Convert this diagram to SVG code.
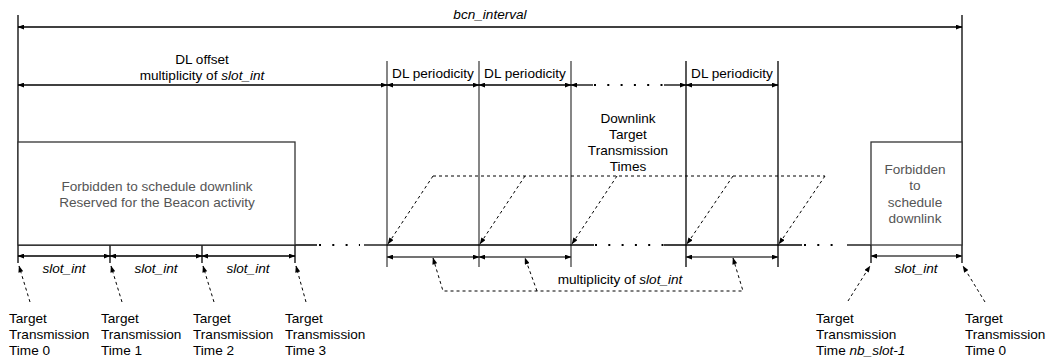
<svg xmlns="http://www.w3.org/2000/svg" width="1047" height="360" viewBox="0 0 1047 360">
<defs>
<marker id="ah" viewBox="0 0 8 6" refX="7.5" refY="3" markerWidth="7" markerHeight="5" markerUnits="userSpaceOnUse" orient="auto-start-reverse">
<path d="M0,0 L8,3 L0,6 z" fill="#000"/>
</marker>
</defs>
<style>
.ln{stroke:#000;stroke-width:1.3;fill:none}
.gl{stroke:#444;stroke-width:1.3;fill:none}
.da{stroke:#000;stroke-width:1;fill:none;stroke-dasharray:3 3}
.dot{stroke:#000;stroke-width:2;fill:none;stroke-dasharray:2 11.3}
.t{font-family:"Liberation Sans",Arial,sans-serif;font-size:13.6px;fill:#000}
.g{fill:#555}
.i{font-style:italic}
.box{fill:#fff;stroke:#333;stroke-width:1.3}
</style>
<rect width="1047" height="360" fill="#fff"/>

<g id="connectors">
<line class="ln" x1="18" y1="15" x2="18" y2="263"/>
<line class="ln" x1="962" y1="15" x2="962" y2="263"/>
<line class="gl" x1="387" y1="61" x2="387" y2="267"/>
<line class="gl" x1="479" y1="61" x2="479" y2="267"/>
<line class="gl" x1="571" y1="61" x2="571" y2="267"/>
<line class="ln" x1="686" y1="61" x2="686" y2="267"/>
<line class="ln" x1="778" y1="61" x2="778" y2="267"/>
<line class="ln" x1="110" y1="245" x2="110" y2="263"/>
<line class="ln" x1="202" y1="245" x2="202" y2="263"/>
<line class="ln" x1="295" y1="245" x2="295" y2="263"/>
<line class="ln" x1="871" y1="245" x2="871" y2="263"/>

<line class="ln" x1="18" y1="27" x2="962" y2="27" marker-start="url(#ah)" marker-end="url(#ah)"/>
<line class="ln" x1="18" y1="85" x2="387" y2="85" marker-start="url(#ah)" marker-end="url(#ah)"/>
<line class="ln" x1="387" y1="85" x2="479" y2="85" marker-start="url(#ah)" marker-end="url(#ah)"/>
<line class="ln" x1="479" y1="85" x2="571" y2="85" marker-start="url(#ah)" marker-end="url(#ah)"/>
<line class="ln" x1="571" y1="85" x2="593" y2="85" marker-start="url(#ah)"/>
<line class="dot" x1="594" y1="85" x2="664" y2="85"/>
<line class="ln" x1="664" y1="85" x2="686" y2="85" marker-end="url(#ah)"/>
<line class="ln" x1="686" y1="85" x2="778" y2="85" marker-start="url(#ah)" marker-end="url(#ah)"/>

<line class="ln" x1="18" y1="245" x2="317" y2="245"/>
<line class="dot" x1="319" y1="245" x2="360" y2="245"/>
<line class="ln" x1="364" y1="245" x2="387" y2="245"/>
<line class="ln" x1="387" y1="245" x2="594" y2="245"/>
<line class="dot" x1="595" y1="245" x2="664" y2="245"/>
<line class="ln" x1="664" y1="245" x2="802" y2="245"/>
<line class="dot" x1="804" y1="245" x2="842" y2="245"/>
<line class="ln" x1="847" y1="245" x2="871" y2="245"/>

<line class="ln" x1="18" y1="256" x2="110" y2="256" marker-start="url(#ah)" marker-end="url(#ah)"/>
<line class="ln" x1="110" y1="256" x2="202" y2="256" marker-start="url(#ah)" marker-end="url(#ah)"/>
<line class="ln" x1="202" y1="256" x2="295" y2="256" marker-start="url(#ah)" marker-end="url(#ah)"/>
<line class="gl" x1="871" y1="256" x2="962" y2="256" marker-start="url(#ah)" marker-end="url(#ah)"/>
<line class="gl" x1="387" y1="257" x2="479" y2="257" marker-start="url(#ah)" marker-end="url(#ah)"/>
<line class="gl" x1="479" y1="257" x2="571" y2="257" marker-start="url(#ah)" marker-end="url(#ah)"/>
<line class="gl" x1="686" y1="257" x2="778" y2="257" marker-start="url(#ah)" marker-end="url(#ah)"/>

<line class="da" x1="433" y1="176" x2="825" y2="176"/>
<line class="da" x1="433" y1="176" x2="388" y2="244" marker-end="url(#ah)"/>
<line class="da" x1="525" y1="176" x2="480" y2="244" marker-end="url(#ah)"/>
<line class="da" x1="617" y1="176" x2="572" y2="244" marker-end="url(#ah)"/>
<line class="da" x1="733" y1="176" x2="687" y2="244" marker-end="url(#ah)"/>
<line class="da" x1="825" y1="176" x2="779" y2="244" marker-end="url(#ah)"/>

<path class="da" d="M433,258 L443,291 L743,291 L733,258" marker-start="url(#ah)" marker-end="url(#ah)"/>
<line class="da" x1="537" y1="291" x2="525" y2="258" marker-end="url(#ah)"/>

<line class="da" x1="30" y1="302" x2="19" y2="266" marker-end="url(#ah)"/>
<line class="da" x1="122" y1="302" x2="111" y2="266" marker-end="url(#ah)"/>
<line class="da" x1="214" y1="302" x2="203" y2="266" marker-end="url(#ah)"/>
<line class="da" x1="306" y1="302" x2="296" y2="266" marker-end="url(#ah)"/>
<line class="da" x1="848" y1="301" x2="870" y2="266" marker-end="url(#ah)"/>
<line class="da" x1="985" y1="302" x2="963" y2="266" marker-end="url(#ah)"/>
</g>

<g id="box-beacon">
<rect class="box" x="18" y="142" width="277" height="103"/>
<text class="t g" x="157" y="191" text-anchor="middle">Forbidden to schedule downlink</text>
<text class="t g" x="157" y="207" text-anchor="middle">Reserved for the Beacon activity</text>
</g>

<g id="box-forbidden">
<rect class="box" x="871" y="142" width="91" height="103"/>
<text class="t g" x="915" y="174" text-anchor="middle">Forbidden</text>
<text class="t g" x="915" y="190" text-anchor="middle">to</text>
<text class="t g" x="915" y="207" text-anchor="middle">schedule</text>
<text class="t g" x="915" y="223" text-anchor="middle">downlink</text>
</g>

<g id="labels">
<text class="t i" x="490" y="19" text-anchor="middle">bcn_interval</text>
<text class="t" x="202" y="64" text-anchor="middle">DL offset</text>
<text class="t" x="202" y="80" text-anchor="middle">multiplicity of <tspan class="i">slot_int</tspan></text>
<text class="t" x="433" y="78" text-anchor="middle">DL periodicity</text>
<text class="t" x="525" y="78" text-anchor="middle">DL periodicity</text>
<text class="t" x="732" y="78" text-anchor="middle">DL periodicity</text>
<text class="t" x="628" y="123" text-anchor="middle">Downlink</text>
<text class="t" x="628" y="139" text-anchor="middle">Target</text>
<text class="t" x="628" y="155" text-anchor="middle">Transmission</text>
<text class="t" x="628" y="171" text-anchor="middle">Times</text>
<text class="t i" x="64" y="273" text-anchor="middle">slot_int</text>
<text class="t i" x="156" y="273" text-anchor="middle">slot_int</text>
<text class="t i" x="248" y="273" text-anchor="middle">slot_int</text>
<text class="t i" x="916" y="273" text-anchor="middle">slot_int</text>
<text class="t" x="620" y="284" text-anchor="middle">multiplicity of <tspan class="i">slot_int</tspan></text>
</g>

<g id="tt0">
<text class="t" x="9" y="323">Target</text>
<text class="t" x="9" y="339">Transmission</text>
<text class="t" x="9" y="355">Time 0</text>
</g>
<g id="tt1">
<text class="t" x="101" y="323">Target</text>
<text class="t" x="101" y="339">Transmission</text>
<text class="t" x="101" y="355">Time 1</text>
</g>
<g id="tt2">
<text class="t" x="193" y="323">Target</text>
<text class="t" x="193" y="339">Transmission</text>
<text class="t" x="193" y="355">Time 2</text>
</g>
<g id="tt3">
<text class="t" x="285" y="323">Target</text>
<text class="t" x="285" y="339">Transmission</text>
<text class="t" x="285" y="355">Time 3</text>
</g>
<g id="ttn">
<text class="t" x="816" y="323">Target</text>
<text class="t" x="816" y="339">Transmission</text>
<text class="t" x="816" y="355">Time <tspan class="i">nb_slot-1</tspan></text>
</g>
<g id="tt0b">
<text class="t" x="965" y="323">Target</text>
<text class="t" x="965" y="339">Transmission</text>
<text class="t" x="965" y="355">Time 0</text>
</g>
</svg>
